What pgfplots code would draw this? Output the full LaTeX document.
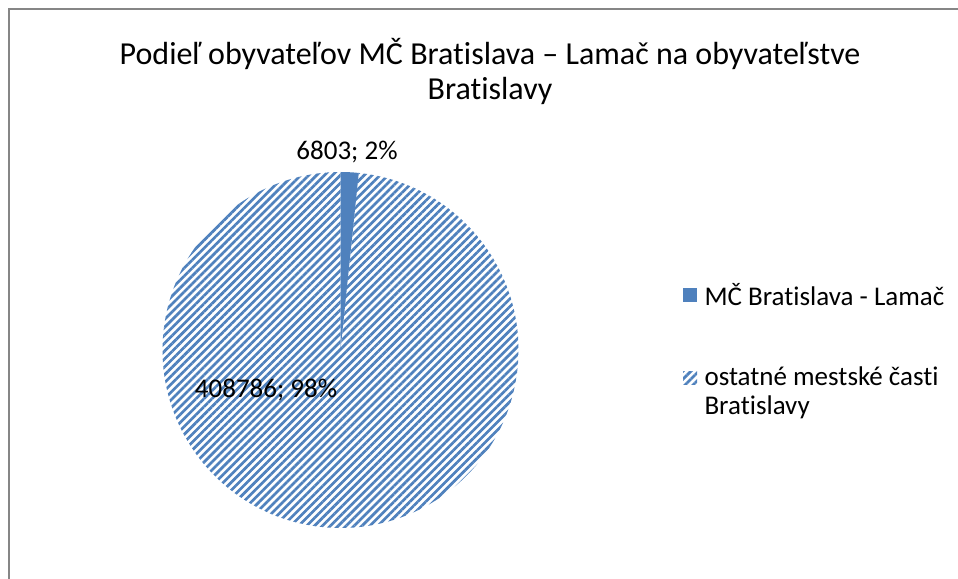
\documentclass[border=0pt]{standalone}
\usepackage{pgfplots}
\pgfplotsset{compat=1.18}
\usepackage{pgfplotstable}
\usepackage{fontspec}
\setmainfont{Carlito}[Ligatures=NoCommon]
\usetikzlibrary{patterns.meta}
\definecolor{pieblue}{HTML}{4F81BD}
\definecolor{framegray}{HTML}{868686}

\pgfplotstableread[col sep=semicolon]{
name;value
MČ Bratislava - Lamač;6803
ostatné mestské časti Bratislavy;408786
}\piedata

\pgfplotstablegetelem{0}{value}\of\piedata \edef\valA{\pgfplotsretval}
\pgfplotstablegetelem{1}{value}\of\piedata \edef\valB{\pgfplotsretval}
\edef\angA{\fpeval{360*\valA/(\valA+\valB)}}
\edef\pctA{\fpeval{round(100*\valA/(\valA+\valB))}}
\edef\pctB{\fpeval{round(100*\valB/(\valA+\valB))}}

\begin{document}
\begin{tikzpicture}
\begin{axis}[
  width=958bp, height=579bp, scale only axis,
  xmin=0, xmax=958, ymin=0, ymax=579,
  hide axis, clip=false,
]
% frame
\draw[framegray, line width=1.6bp] (axis cs:9,0) -- (axis cs:9,570) -- (axis cs:958,570);
% title
\node[font=\fontsize{32bp}{38bp}\selectfont, anchor=center] at (axis cs:490,525) {Podieľ obyvateľov MČ Bratislava – Lamač na obyvateľstve};
\node[font=\fontsize{32bp}{38bp}\selectfont, anchor=center] at (axis cs:490,488) {Bratislavy};
% slices
\fill[pattern={Lines[angle=45, distance=5.6bp, line width=2.7bp]}, pattern color=pieblue]
  (axis cs:340.5,229) -- ++(90-\angA:178bp) arc[start angle=90-\angA, end angle=-270, radius=178bp] -- cycle;
\fill[pieblue] (axis cs:340.5,229) -- ++(90:178bp) arc[start angle=90, end angle=90-\angA, radius=178bp] -- cycle;
% data labels
\node[font=\fontsize{27bp}{32bp}\selectfont] at (axis cs:347,427) {\valA; \pctA\%};
\node[font=\fontsize{27bp}{32bp}\selectfont] at (axis cs:266,189) {\valB; \pctB\%};
% legend
\fill[pieblue] (axis cs:683,277) rectangle (axis cs:697,291);
\node[font=\fontsize{27bp}{30bp}\selectfont, anchor=west] at (axis cs:701,284) {MČ Bratislava - Lamač};
\fill[pattern={Lines[angle=45, distance=5.6bp, line width=2.7bp]}, pattern color=pieblue] (axis cs:683,194) rectangle (axis cs:697,207);
\node[font=\fontsize{27bp}{29bp}\selectfont, anchor=west, align=left] at (axis cs:701,186) {ostatné mestské časti\\Bratislavy};
\end{axis}
\pgfresetboundingbox
\useasboundingbox (0,0) rectangle (958bp,579bp);
\end{tikzpicture}
\end{document}
